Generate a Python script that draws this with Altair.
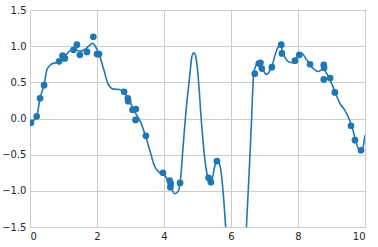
import altair as alt
import pandas as pd

# scatter data
px = [0.03, 0.20, 0.30, 0.42, 0.87, 0.97, 1.04, 1.30, 1.40, 1.49, 1.70, 1.89, 2.00, 2.06,
      2.81, 2.92, 2.93, 3.06, 3.16, 3.15, 3.46, 3.97, 4.17, 4.20, 4.19, 4.48,
      5.33, 5.40, 5.58, 6.71, 6.83, 6.88, 6.92, 7.22, 7.50, 7.52, 7.91, 8.04,
      8.36, 8.77, 8.78, 8.77, 8.96, 9.10, 9.58, 9.70, 9.88]
py = [-0.06, 0.03, 0.28, 0.46, 0.79, 0.87, 0.83, 0.95, 1.02, 0.88, 0.92, 1.13, 0.89, 0.89,
      0.37, 0.28, 0.24, 0.12, 0.13, -0.02, -0.24, -0.75, -0.86, -0.90, -0.95, -0.89,
      -0.82, -0.88, -0.59, 0.62, 0.76, 0.77, 0.69, 0.71, 1.02, 0.90, 0.80, 0.88,
      0.75, 0.74, 0.70, 0.54, 0.56, 0.36, -0.10, -0.30, -0.44]

# fitted curve
cx = [0.0, 0.20, 0.30, 0.42, 0.51, 0.63, 0.83, 1.03, 1.18, 1.33, 1.47, 1.62, 1.80, 1.87,
      1.97, 2.07, 2.20, 2.32, 2.47, 2.67, 2.82, 2.96, 3.13, 3.27, 3.42, 3.57, 3.72,
      3.87, 4.02, 4.17, 4.32, 4.42, 4.49, 4.57, 4.67, 4.76, 4.83, 4.89, 4.95, 5.01,
      5.12, 5.21, 5.31, 5.41, 5.51, 5.59, 5.68, 5.76, 5.84, 5.95, 6.15, 6.35, 6.46,
      6.54, 6.61, 6.68, 6.81, 6.94, 7.06, 7.21, 7.36, 7.47, 7.55, 7.70, 7.85, 8.00,
      8.10, 8.25, 8.40, 8.60, 8.75, 8.87, 9.00, 9.10, 9.25, 9.39, 9.54, 9.64, 9.74,
      9.84, 9.92, 10.0]
cy = [-0.06, 0.03, 0.28, 0.47, 0.68, 0.75, 0.78, 0.86, 0.93, 0.97, 0.93, 0.95, 1.02, 1.04,
      0.98, 0.88, 0.68, 0.49, 0.41, 0.40, 0.36, 0.25, 0.09, -0.02, -0.20, -0.43, -0.66,
      -0.75, -0.79, -0.90, -1.04, -1.01, -0.85, -0.39, 0.17, 0.55, 0.85, 0.91, 0.85, 0.63,
      -0.06, -0.53, -0.81, -0.875, -0.67, -0.57, -0.67, -0.99, -1.5, -2.4, -3.0, -2.4, -1.5,
      -0.76, -0.06, 0.63, 0.77, 0.68, 0.61, 0.71, 0.94, 1.02, 0.91, 0.79, 0.77, 0.87,
      0.90, 0.82, 0.72, 0.65, 0.68, 0.61, 0.49, 0.375, 0.21, 0.12, -0.02, -0.16, -0.34,
      -0.44, -0.43, -0.23]

pts = pd.DataFrame({"x": px, "y": py})
curve = pd.DataFrame({"x": cx, "y": cy})

blue = "#1f77b4"
xs = alt.Scale(domain=[0, 10], nice=False, zero=False)
ys = alt.Scale(domain=[-1.5, 1.5], nice=False, zero=False)
xax = alt.Axis(values=[0, 2, 4, 6, 8, 10], format="d", title=None)
yax = alt.Axis(values=[-1.5, -1.0, -0.5, 0.0, 0.5, 1.0, 1.5], format=".1f", title=None)

scatter = alt.Chart(pts).mark_circle(color=blue, size=45, opacity=1, clip=True).encode(
    x=alt.X("x:Q", scale=xs, axis=xax),
    y=alt.Y("y:Q", scale=ys, axis=yax),
)
line = alt.Chart(curve).mark_line(color=blue, strokeWidth=1.6, clip=True,
                                  interpolate="monotone").encode(
    x=alt.X("x:Q", scale=xs, axis=xax),
    y=alt.Y("y:Q", scale=ys, axis=yax),
    order="x:Q",
)

chart = alt.layer(scatter, line).properties(
    width=335, height=217,
    autosize="none",
    padding={"left": 30, "top": 10, "right": 13, "bottom": 20},
    background="white",
).configure_view(
    stroke="#cccccc", strokeWidth=1,
).configure_axis(
    grid=True, gridColor="#cccccc", gridWidth=1,
    domain=False, ticks=False,
    labelFont="DejaVu Sans", labelFontSize=10, labelColor="#262626",
    labelPadding=4,
).configure_axisX(labelPadding=4)

chart.save("out.html", embed_options={"renderer": "svg", "actions": False})
